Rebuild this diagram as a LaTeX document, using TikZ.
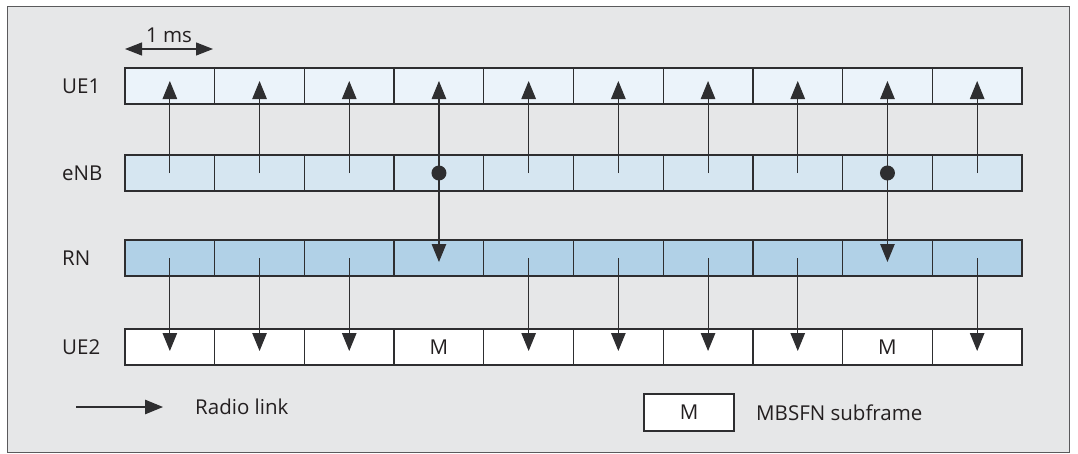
\documentclass[tikz,border=0pt]{standalone}
\usepackage{fontspec}
\setmainfont{Open Sans}
\usetikzlibrary{arrows.meta}
\definecolor{bgc}{HTML}{E6E7E8}
\definecolor{framec}{HTML}{5A5A5C}
\definecolor{linec}{HTML}{2E2E30}
\definecolor{ueone}{HTML}{EBF3FA}
\definecolor{enbc}{HTML}{D6E6F1}
\definecolor{rnc}{HTML}{B1D1E7}
\definecolor{txtc}{HTML}{231F20}
\newcommand{\diafont}{\fontsize{20.5}{24}\selectfont}
\tikzset{
  cell/.style={draw=linec, line width=1.3pt, minimum width=89.7pt, minimum height=36pt, inner sep=0pt, font=\diafont, text=txtc},
  rowlabel/.style={anchor=west, inner sep=0pt, font=\diafont, text=txtc},
  link/.style={draw=linec, line width=1.1pt, -{Triangle[length=18pt,width=14.5pt]}},
  dot/.style={circle, fill=linec, inner sep=0pt, minimum size=15pt},
}
\begin{document}
\begin{tikzpicture}[x=1pt,y=-1pt]
\useasboundingbox (0,0) rectangle (1078,453);
\node[draw=framec, line width=1pt, fill=bgc, minimum width=1062pt, minimum height=446pt, inner sep=0pt] (frame) at (538,229) {};
% row labels
\node[rowlabel] (lue1) at (62,86) {UE1};
\node[rowlabel] (lenb) at (62,173) {eNB};
\node[rowlabel] (lrn) at (62,258) {RN};
\node[rowlabel] (lue2) at (62,347) {UE2};
% cells
\foreach \i in {1,...,10}{
  \pgfmathsetmacro{\cx}{125+89.7*(\i-0.5)}
  \node[cell, fill=ueone] (ua\i) at (\cx,86) {};
  \node[cell, fill=enbc] (en\i) at (\cx,173) {};
  \node[cell, fill=rnc] (rn\i) at (\cx,258) {};
}
\foreach \i in {1,2,3,5,6,7,8,10}{
  \pgfmathsetmacro{\cx}{125+89.7*(\i-0.5)}
  \node[cell, fill=white] (ub\i) at (\cx,347) {};
}
\foreach \i in {4,9}{
  \pgfmathsetmacro{\cx}{125+89.7*(\i-0.5)}
  \node[cell, fill=white] (ub\i) at (\cx,347) {M};
}
% links eNB -> UE1
\foreach \i in {1,...,10}{
  \draw[link] (en\i.center) -- ([yshift=5pt]ua\i.center);
}
% links RN -> UE2
\foreach \i in {1,2,3,5,6,7,8,10}{
  \draw[link] (rn\i.center) -- ([yshift=-4pt]ub\i.center);
}
% eNB -> RN in MBSFN subframes
\foreach \i in {4,9}{
  \draw[link] (en\i.center) -- ([yshift=-4pt]rn\i.center);
  \node[dot] (d\i) at (en\i.center) {};
}
% 1 ms
\coordinate (msa) at (125,49);
\coordinate (msb) at (213,49);
\draw[draw=linec, line width=1.1pt, {Triangle[length=17pt,width=13pt]}-{Triangle[length=17pt,width=13pt]}] (msa) -- (msb) node[midway, above=6pt, inner sep=0pt, font=\diafont, text=txtc] (mst) {1 ms};
% legend
\coordinate (lga) at (76,407);
\coordinate (lgb) at (163,407);
\draw[link] (lga) -- (lgb);
\node[rowlabel] (lgt) at (195,407) {Radio link};
\node[cell, fill=white, minimum height=37pt, minimum width=90pt] (lgm) at (689,412.5) {M};
\node[rowlabel] (lgs) at (756,412.5) {MBSFN subframe};
\end{tikzpicture}
\end{document}
